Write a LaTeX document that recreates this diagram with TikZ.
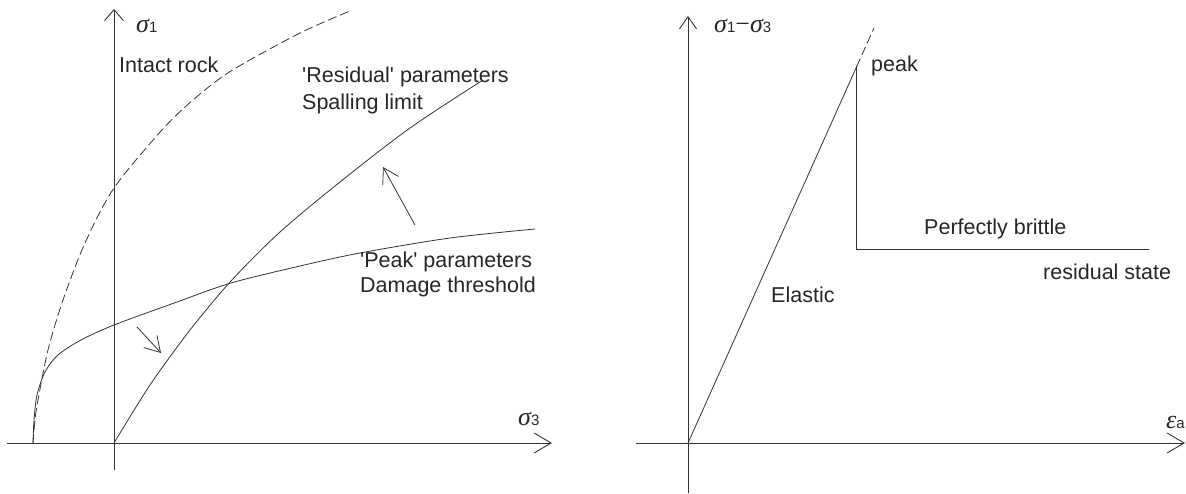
\documentclass[tikz,border=0pt]{standalone}
\usepackage{fontspec}
\setmainfont{Liberation Sans}
\newfontfamily\grk{Liberation Serif}
\usetikzlibrary{arrows.meta}
\newcommand{\sidx}[1]{{\normalfont\fontsize{15}{18}\selectfont #1}}

\begin{document}
\begin{tikzpicture}[
    x=1pt, y=-1pt,
    axis/.style={black!80, line width=0.9pt},
    curve/.style={black!80, line width=0.8pt},
    trend/.style={curve, dash pattern=on 9pt off 4pt},
    lbl/.style={font=\fontsize{21.5}{26}\selectfont, text=black!85, inner sep=0pt, anchor=base west},
    sym/.style={lbl, font=\fontsize{26}{30}\selectfont\grk\itshape},
    pointer/.style={curve, -{Straight Barb[length=15pt, width=18pt]}}
  ]
  \useasboundingbox (0,0) rectangle (1186,494);

  % left: strength envelopes
  \coordinate (la) at (7,443); \coordinate (lb) at (552,443);
  \coordinate (lc) at (114,470); \coordinate (ld) at (114,9);
  \draw[axis, -{Straight Barb[length=17pt, width=20pt]}] (la)--(lb);
  \draw[axis, -{Straight Barb[length=11pt, width=19pt]}] (lc)--(ld);
  \node[sym](s1) at (136,33){σ\sidx{1}};
  \node[sym](s3) at (518,425){σ\sidx{3}};

  \draw[trend] plot[smooth] coordinates {(33,443) (35,420) (38,400) (48,350) (63,300)
    (85,243) (114,188) (162,130) (193,100) (231,71) (300,33) (350,11)};
  \draw[curve] plot[smooth] coordinates {(33,443) (34,420) (37,395) (45,372) (58,355)
    (81,340) (114,325) (177,302) (231,283) (300,266) (360,253) (450,238) (535,229)};
  \draw[curve] plot[smooth] coordinates {(114,443) (150,385) (190,330) (231,281)
    (280,232) (340,182) (410,128) (483,80)};

  \node[lbl](intact) at (119,73){Intact rock};
  \node[lbl](resid) at (302,83){\textquotesingle Residual\textquotesingle{} parameters};
  \node[lbl](spall) at (302,110){Spalling limit};
  \node[lbl](peakp) at (360,268){\textquotesingle Peak\textquotesingle{} parameters};
  \node[lbl](damage) at (360,293){Damage threshold};

  \coordinate (pa) at (137,327); \coordinate (pb) at (161,353);
  \coordinate (pc) at (415,225); \coordinate (pd) at (383,167);
  \draw[pointer] (pa)--(pb);
  \draw[pointer] (pc)--(pd);

  % right: stress-strain
  \coordinate (ra) at (636,443); \coordinate (rb) at (1185,443);
  \coordinate (rc) at (688,493); \coordinate (rd) at (688,16);
  \draw[axis, -{Straight Barb[length=17pt, width=20pt]}] (ra)--(rb);
  \draw[axis, -{Straight Barb[length=12pt, width=17pt]}] (rc)--(rd);
  \node[sym](dev) at (714,33){σ\sidx{1}\upshape −\itshape σ\sidx{3}};
  \node[sym, anchor=base east](eps) at (1185,428){ε\sidx{a}};

  \coordinate (ro) at (688,443); \coordinate (pk) at (856.5,67);
  \coordinate (pt) at (874,28);
  \coordinate (dr) at (856.5,249.5); \coordinate (re) at (1149,249.5);
  \draw[curve] (ro)--(pk)--(dr)--(re);
  \draw[trend] (pk)--(pt);

  \node[lbl](peak) at (871,72){peak};
  \node[lbl](brittle) at (924,235){Perfectly brittle};
  \node[lbl](rstate) at (1043,280){residual state};
  \node[lbl](elastic) at (771,302){Elastic};
\end{tikzpicture}
\end{document}
